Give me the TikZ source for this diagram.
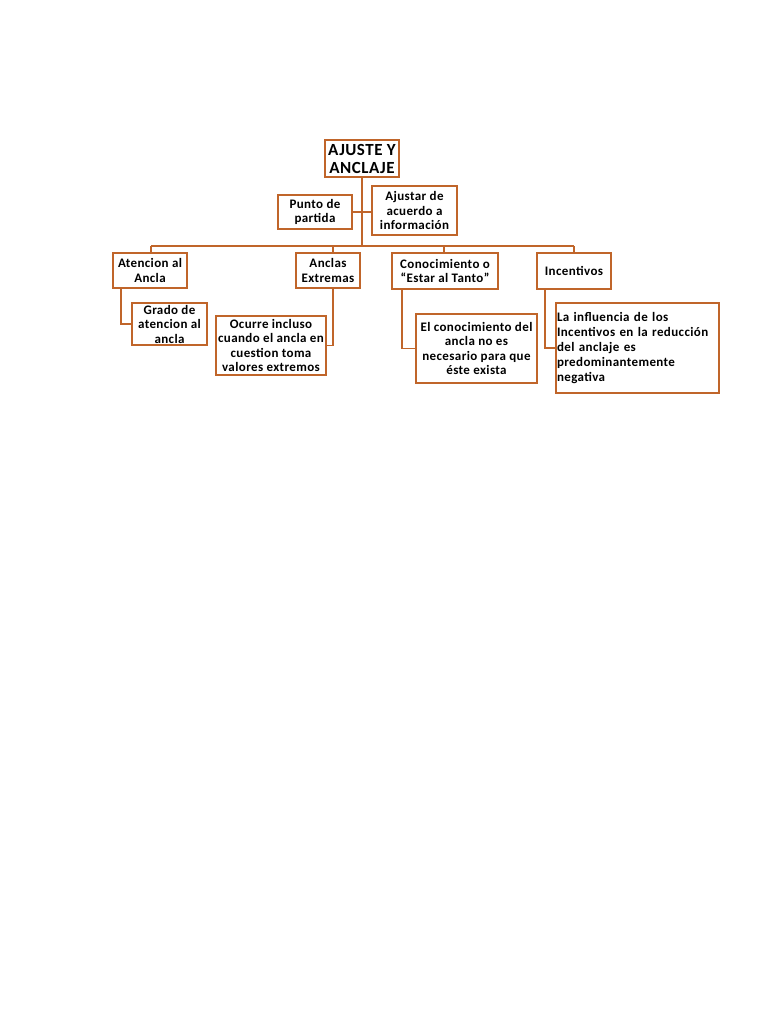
\documentclass[tikz,border=0pt]{standalone}
\usepackage{fontspec}
\setmainfont{Carlito}[LetterSpace=3]
\definecolor{oc}{HTML}{C0652A}
\begin{document}
\begin{tikzpicture}[x=1pt,y=-1pt,
  box/.style={draw=oc,line width=1.2pt,inner sep=0pt,align=center,font=\bfseries\fontsize{13}{14.5}\selectfont},
  conn/.style={draw=oc,line width=1.2pt}]
\useasboundingbox[fill=white] (0,0) rectangle (768,1024);
% title and first level
\node[box,minimum width=74,minimum height=37,font=\bfseries\fontsize{17}{18}\selectfont] (t) at (362,158.5) {AJUSTE Y\\ANCLAJE};
\node[box,minimum width=74,minimum height=34] (pp) at (315,212) {Punto de\\partida};
\node[box,minimum width=85,minimum height=49] (aj) at (414.5,210.5) {Ajustar de\\acuerdo a\\información};
\node[box,minimum width=74,minimum height=35] (at) at (150,270.5) {Atencion al\\Ancla};
\node[box,minimum width=64,minimum height=35] (an) at (328,270.5) {Anclas\\Extremas};
\node[box,minimum width=106,minimum height=36] (co) at (445,271) {Conocimiento o\\“Estar al Tanto”};
\node[box,minimum width=74,minimum height=36] (in) at (574,271) {Incentivos};
% second level
\node[box,minimum width=75,minimum height=42] (gr) at (169.5,324) {Grado de\\atencion al\\ancla};
\node[box,minimum width=110,minimum height=59] (ocu) at (271,345.5) {Ocurre incluso\\cuando el ancla en\\cuestion toma\\valores extremos};
\node[box,minimum width=121,minimum height=69] (el) at (476.5,348.5) {El conocimiento del\\ancla no es\\necesario para que\\éste exista};
\node[box,minimum width=163,minimum height=90,text width=161,align=left,font=\bfseries\fontsize{13}{15}\selectfont] (la) at (637.5,348) {La influencia de los\\Incentivos en la reducción\\del anclaje es\\predominantemente\\negativa};
% connectors
\coordinate (bl) at (151,246);
\coordinate (br) at (574,246);
\draw[conn] (t.south) -- (t.south |- bl);
\draw[conn] (pp.east) -- (aj.west |- pp.east);
\draw[conn] (bl) -- (br);
\draw[conn] ([xshift=1]at.north) -- ([xshift=1]at.north |- bl);
\draw[conn] ([xshift=5]an.north) -- ([xshift=5]an.north |- bl);
\draw[conn] ([xshift=-1]co.north) -- ([xshift=-1]co.north |- bl);
\draw[conn] (in.north) -- (in.north |- br);
\draw[conn] ([xshift=-29]at.south) |- (gr.west);
\draw[conn] ([xshift=5]an.south) |- (ocu.east);
\draw[conn] ([xshift=-43]co.south) |- (el.west);
\draw[conn] ([xshift=-29]in.south) |- (la.west);
\end{tikzpicture}
\end{document}
